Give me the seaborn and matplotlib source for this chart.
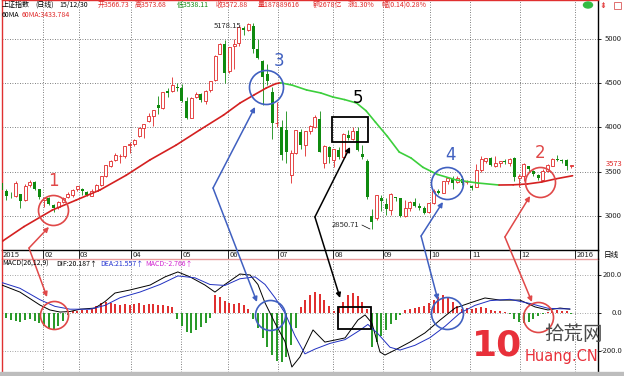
import matplotlib
matplotlib.use("Agg")
import matplotlib.pyplot as plt
import matplotlib.transforms as mtransforms
from matplotlib.patches import Rectangle, Ellipse
from matplotlib.lines import Line2D
import numpy as np
import pandas as pd
import seaborn as sns

W, H = 624, 376
RED = "#e02828"
RED_A = "#e04848"
GREEN = "#0f8a0f"
MA_GREEN = "#3ccf3c"
BLUE = "#4060c0"
PINK = "#e89a9a"

# ----------------------------------------
# data
# ----------------------------------------
month_days = [20, 35, 57, 78, 98, 119, 142, 163, 183, 200, 221, 244]
month_labels = ["02", "03", "04", "05", "06", "07", "08", "09", "10", "11", "12", "2016"]

# one candle per two trading days, Jan .. Dec 2015
candle_open = [
    3258, 3371, 3285, 3223, 3230, 3250, 3180, 3350, 3380, 3300,
    3180, 3200, 3120, 3100, 3160, 3210, 3240, 3300, 3310, 3270,
    3230, 3285, 3350, 3450, 3570, 3630, 3680, 3680, 3800, 3815,
    3900, 3990, 4070, 4130, 4250, 4220, 4410, 4410, 4460, 4441,
    4300, 4110, 4340, 4380, 4300, 4420, 4540, 4830, 4940, 4633,
    4920, 4950, 5120, 5100, 5150, 4890, 4750, 4600, 4400, 4050,
    4000, 3975, 3467, 3710, 3950, 3800, 3960, 4000, 4100, 3600,
    3780, 3630, 3750, 3670, 3920, 3870, 3960, 3700, 3620, 3000,
    2980, 3200, 3140, 3070, 3210, 3200, 3000, 3090, 3160, 3110,
    3090, 3040, 3150, 3280, 3260, 3400, 3420, 3380, 3420, 3380,
    3340, 3330, 3520, 3620, 3650, 3560, 3600, 3620, 3600, 3650,
    3430, 3450, 3560, 3510, 3460, 3410, 3510, 3570, 3640, 3630,
    3630, 3567,
]
candle_close = [
    3351, 3293, 3229, 3222, 3376, 3173, 3343, 3383, 3305, 3210,
    3204, 3136, 3095, 3157, 3203, 3246, 3298, 3336, 3280, 3241,
    3286, 3349, 3449, 3577, 3617, 3691, 3682, 3786, 3810, 3863,
    3995, 4034, 4135, 4194, 4217, 4398, 4394, 4476, 4441, 4298,
    4112, 4333, 4375, 4308, 4418, 4529, 4813, 4941, 4611, 4910,
    4947, 5131, 5106, 5166, 4887, 4786, 4576, 4527, 4053, 4053,
    3687, 3728, 3709, 3970, 3805, 3957, 4017, 4124, 3725, 3789,
    3664, 3756, 3661, 3928, 3886, 3965, 3748, 3664, 3210, 2927,
    3232, 3166, 3080, 3243, 3200, 3005, 3086, 3156, 3115, 3092,
    3038, 3143, 3288, 3263, 3391, 3425, 3368, 3430, 3375, 3382,
    3316, 3522, 3646, 3650, 3580, 3604, 3617, 3610, 3647, 3436,
    3456, 3585, 3536, 3472, 3434, 3510, 3580, 3642, 3636, 3627,
    3563, 3573,
]
candle_high = [
    3394, 3404, 3300, 3275, 3400, 3250, 3360, 3406, 3390, 3310,
    3210, 3210, 3130, 3165, 3210, 3275, 3300, 3340, 3320, 3280,
    3310, 3360, 3450, 3580, 3632, 3716, 3700, 3795, 3835, 3866,
    4000, 4040, 4169, 4200, 4356, 4400, 4445, 4572, 4500, 4489,
    4345, 4340, 4404, 4390, 4420, 4530, 4814, 4958, 4986, 4911,
    5000, 5147, 5147, 5178, 5176, 4995, 4760, 4720, 4460, 4287,
    4080, 4190, 3748, 3975, 3980, 3960, 4030, 4140, 4184, 3800,
    3790, 3760, 3780, 3940, 3970, 4000, 4006, 3800, 3640, 3080,
    3240, 3240, 3200, 3256, 3220, 3200, 3182, 3165, 3200, 3150,
    3110, 3150, 3300, 3300, 3400, 3430, 3448, 3457, 3450, 3410,
    3350, 3585, 3678, 3660, 3670, 3680, 3620, 3640, 3650, 3668,
    3470, 3600, 3570, 3520, 3480, 3530, 3590, 3651, 3684, 3640,
    3640, 3574,
]
candle_low = [
    3253, 3285, 3180, 3205, 3220, 3095, 3170, 3330, 3290, 3190,
    3100, 3120, 3050, 3080, 3150, 3200, 3210, 3280, 3240, 3230,
    3225, 3280, 3340, 3445, 3555, 3625, 3600, 3660, 3710, 3790,
    3890, 3880, 4060, 4020, 4156, 4205, 4350, 4400, 4410, 4293,
    4099, 4105, 4330, 4292, 4260, 4400, 4530, 4830, 4500, 4615,
    4660, 4920, 5040, 5090, 4842, 4770, 4250, 4480, 3875, 4000,
    3629, 3600, 3373, 3700, 3760, 3680, 3930, 3990, 3720, 3537,
    3600, 3550, 3640, 3660, 3860, 3860, 3740, 3640, 3191, 2851,
    2950, 3054, 3010, 3011, 3165, 2983, 2990, 3060, 3100, 3065,
    3020, 3030, 3140, 3250, 3255, 3360, 3300, 3370, 3350, 3360,
    3290, 3325, 3500, 3600, 3560, 3550, 3550, 3590, 3570, 3400,
    3330, 3400, 3500, 3450, 3405, 3400, 3500, 3560, 3620, 3600,
    3520, 3538,
]

ma60_day = [0, 3, 12, 24, 34, 44, 55, 65, 76, 86, 96, 103, 109, 114, 118, 120, 125,
            131, 137, 142, 147, 152, 156, 160, 165, 170, 175, 180, 186, 194, 203,
            212, 218, 224, 230, 236, 243]
ma60_val = [2690, 2717, 2880, 3068, 3180, 3294, 3460, 3633, 3800, 3972, 4140, 4277,
            4370, 4446, 4495, 4505, 4478, 4424, 4390, 4345, 4315, 4277, 4190, 4060,
            3900, 3723, 3655, 3550, 3470, 3407, 3373, 3350, 3352, 3362, 3384, 3420, 3455]

dif_day = [2.7, 10.3, 18.7, 22.9, 27.2, 31.4, 35.6, 41.9, 46.1, 50.3,
           56.6, 65.1, 71.4, 76.8, 81.9, 88.2, 92.4, 96.6, 102.9, 107.2,
           110.5, 113.5, 117.7, 121.9, 124.8, 128.2, 133.7, 138.7, 143.0, 147.2,
           152.6, 155.6, 158.5, 161.9, 164.0, 168.2, 174.5, 180.8, 187.2, 193.5,
           199.8, 206.1, 212.4, 220.8, 227.2, 232.6, 237.7, 241.9]
dif_val = [147, 110, 42, 16, 5, 8, 20, 26, 60, 105,
           121, 147, 190, 216, 190, 147, 110, 150, 205, 200,
           150, 53, -53, -150, -284, -231, -89, -153, -142, -131,
           -37, -10, -53, -205, -221, -195, -153, -105, -37, 26,
           53, 79, 68, 68, 32, 16, 26, 20]
dea_day = [2.7, 10.3, 18.7, 25.0, 31.4, 39.8, 46.1, 52.4, 60.8, 69.3,
           76.8, 84.0, 90.3, 96.6, 102.9, 109.3, 113.5, 117.7, 121.9, 126.1,
           130.3, 134.5, 140.8, 147.2, 153.5, 156.8, 161.1, 166.1, 170.3, 176.6,
           182.9, 189.3, 195.6, 201.9, 208.2, 216.6, 225.1, 232.6, 237.7, 241.9]
dea_val = [160, 130, 70, 35, 20, 20, 40, 80, 110, 150,
           195, 185, 150, 145, 180, 190, 150, 80, 0, -120,
           -215, -190, -160, -140, -90, -60, -110, -180, -195, -170,
           -130, -70, 0, 40, 65, 72, 50, 25, 22, 21.6]
macd_hist = [
    -15, -22, -28, -35, -40, -45, -38, -30, -40, -50,
    -70, -85, -89, -70, -40, -10, 8, 12, 15, 18,
    20, 35, 50, 58, 50, 45, 42, 48, 40, 45,
    50, 42, 48, 45, 40, 44, 38, 30, -30, -70,
    -100, -105, -90, -75, -55, -25, 95, 85, 65, 50,
    45, 55, 40, 20, -30, -80, -130, -180, -220, -250,
    -258, -230, -170, -80, 30, 70, 95, 110, 100, 70,
    35, 10, 25, 60, 95, 105, 90, 60, 20, -179,
    -150, -120, -90, -60, -35, -10, 15, 20, 25, 30,
    35, 50, 70, 85, 95, 85, 60, 35, 20, 25,
    22, 28, 30, 25, 15, 12, 8, 5, -5, -30,
    -45, -53, -45, -30, -15, -5, 5, 10, 15, 12,
    8, -3,
]

price_ticks = [3000, 3500, 4000, 4500, 5000]
macd_ticks = [200, 0, -200]
macd_tick_labels = ["200.0", "0.0", "-200.0"]

# marked spots: circle on price chart, circle on MACD, arrows from one origin
spot_label = ["1", "3", "4", "2"]
spot_color = [RED_A, BLUE, BLUE, RED_A]
spot_main = [(24.2, 3068, 15), (113.9, 4458, 17), (190.1, 3373, 16), (229.3, 3384, 15)]
spot_macd = [(24.6, -10, 14), (115.6, -10, 15), (190.1, 0, 16), (228.4, -21, 15)]
number_pos = [(24.2, 3395), (119.4, 4751), (191.4, 3689), (229.3, 3712)]
arrow_from = [(14.1, 2638), (91.6, 3316), (179.2, 2774), (214.5, 2763)]
arrow_to_main = [(22.5, 2876), (109.3, 4232), (188.4, 3158), (225.1, 3226)]
arrow_to_macd = [(21.7, 84), (110.1, 58), (186.3, 68), (225.9, 58)]

# spot 5 uses boxes
box_main = (141.6, 3836, 15.2, 283)
box_macd = (144.2, -84, 13.9, 116)
box5_from = (134.5, 2989)
box5_to_main = (149.3, 3780)
box5_to_macd = (145.1, 79)
box5_number = (152.6, 4333)

# ----------------------------------------
# figure
# ----------------------------------------
sns.set_theme(style="white")
plt.rcParams["font.family"] = ["Noto Sans CJK SC", "DejaVu Sans"]
plt.rcParams["axes.unicode_minus"] = False

fig = plt.figure(figsize=(W / 100, H / 100), dpi=100)
fig.patch.set_facecolor("white")


def fx(x):
    return x / W


def fy(y):
    return 1 - y / H


def ftext(x, y, s, **kw):
    kw.setdefault("va", "center")
    kw.setdefault("fontsize", 5)
    fig.text(fx(x), fy(y), s, **kw)


ax = fig.add_axes([fx(2), fy(250), 596 / W, 250 / H])
axm = fig.add_axes([fx(2), fy(372), 596 / W, 113 / H])
XMIN, XMAX = 2.74, 253.7
ax.set_xlim(XMIN, XMAX)
ax.set_ylim(2615.7, 5440.7)
axm.set_xlim(XMIN, XMAX)
axm.set_ylim(-310.3, 284)

# grid
grid_kw = dict(color="#555555", lw=0.6, ls=(0, (1, 2)), zorder=1)
for d in month_days:
    ax.axvline(d, **grid_kw)
    axm.axvline(d, **grid_kw)
for p in price_ticks:
    ax.axhline(p, **grid_kw)
for v in macd_ticks:
    axm.axhline(v, **dict(grid_kw, color="#888888"))

# candles
df = pd.DataFrame({"open": candle_open, "close": candle_close,
                   "high": candle_high, "low": candle_low})
df["pos"] = np.arange(len(df)) * 2 + 0.5
up = df[df["close"] >= df["open"]]
dn = df[df["close"] < df["open"]]
ax.vlines(up["pos"], up["low"], up["high"], color=RED, lw=0.6, zorder=3)
ax.vlines(dn["pos"], dn["low"], dn["high"], color=GREEN, lw=0.6, zorder=3)
ax.bar(up["pos"], up["close"] - up["open"], bottom=up["open"], width=1.3,
       facecolor="white", edgecolor=RED, lw=0.6, zorder=4)
ax.bar(dn["pos"], dn["open"] - dn["close"], bottom=dn["close"], width=1.3,
       color=GREEN, lw=0, zorder=4)

# 60 day MA, red when rising, green when falling
for i in range(len(ma60_day) - 1):
    c = "#d42020" if ma60_val[i + 1] >= ma60_val[i] else MA_GREEN
    ax.plot(ma60_day[i:i + 2], ma60_val[i:i + 2], color=c, lw=1.2,
            zorder=5, solid_capstyle="round")

# MACD
hist_pos = np.arange(len(macd_hist)) * 2 + 0.5
hist_col = ["#e03030" if v >= 0 else "#2a9a2a" for v in macd_hist]
axm.bar(hist_pos, macd_hist, width=0.9, color=hist_col, lw=0, zorder=3)
sns.lineplot(x=dif_day, y=dif_val, ax=axm, color="black", linewidth=0.7,
             sort=False, estimator=None, zorder=4)
sns.lineplot(x=dea_day, y=dea_val, ax=axm, color="#2030c0", linewidth=0.7,
             sort=False, estimator=None, zorder=4)
axm.set_xlabel("")
axm.set_ylabel("")

# axes frames and ticks
for a in (ax, axm):
    a.set_xticks([])
    a.set_yticks([])
    a.spines["left"].set_color("#e03030")
    a.spines["right"].set_color("black")
    for s in a.spines.values():
        s.set_linewidth(1.0)
ax.spines["top"].set_color("#e03030")
ax.spines["bottom"].set_color("black")
axm.spines["top"].set_color(PINK)
axm.spines["bottom"].set_visible(False)

ax.set_xticks(month_days)
ax.set_xticklabels([])
ax.tick_params(axis="x", bottom=True, direction="out", length=6.5, width=0.6,
               color="black")
ax.yaxis.tick_right()
ax.set_yticks(price_ticks)
ax.set_yticklabels([])
ax.tick_params(axis="y", right=True, left=False, direction="out", length=2.5,
               width=0.6, color="black")
axm.yaxis.tick_right()
axm.set_yticks(macd_ticks)
axm.set_yticklabels([])
axm.tick_params(axis="y", right=True, left=False, direction="out", length=2.5,
                width=0.6, color="black")

xb = mtransforms.blended_transform_factory(ax.transData, ax.transAxes)
ax.text(XMIN + 0.3, -0.02, "2015", transform=xb, ha="left", va="center", fontsize=5.5)
for d, lab in zip(month_days, month_labels):
    ax.text(d + 0.6, -0.02, lab, transform=xb, ha="left", va="center", fontsize=5.5)

yb = mtransforms.blended_transform_factory(ax.transAxes, ax.transData)
for p in price_ticks:
    ax.text(1 + 24 / 596, p, str(p), transform=yb, ha="right", va="center", fontsize=5.5)
ax.text(1 + 24 / 596, 3590, "3573", transform=yb, ha="right", va="center",
        fontsize=5.5, color=RED)
ymb = mtransforms.blended_transform_factory(axm.transAxes, axm.transData)
for v, lab in zip(macd_ticks, macd_tick_labels):
    axm.text(1 + 24 / 596, v, lab, transform=ymb, ha="right", va="center", fontsize=5.5)

# continuous frame lines through the date row
fig.add_artist(Line2D([fx(2), fx(2)], [fy(250), fy(259)], color="#e03030", lw=1.0))
fig.add_artist(Line2D([fx(598), fx(598)], [fy(250), fy(259)], color="black", lw=1.0))
fig.add_artist(Rectangle((0, 0), 1, 4 / H, transform=fig.transFigure,
                         color="#bdbdbd", zorder=10))

# extreme value labels
ax.text(97.9, 5147, "5178.15", ha="center", va="center", fontsize=5.5, zorder=6)
ax.text(147.6, 2898, "2850.71", ha="center", va="center", fontsize=5.5, zorder=6)
ax.plot([154.3, 157.7], [2898, 2853], color="black", lw=0.5, zorder=6)

# ----------------------------------------
# annotations
# ----------------------------------------
arrow_kw = dict(arrowstyle="-|>", lw=1.1, mutation_scale=7, shrinkA=0, shrinkB=0)


def draw_arrow(start, end, color, target):
    target.annotate("", xy=end, xycoords="data", xytext=start,
                    textcoords=ax.transData,
                    arrowprops=dict(arrow_kw, color=color),
                    annotation_clip=False, zorder=8)


for i in range(len(spot_label)):
    c = spot_color[i]
    d, p, r = spot_main[i]
    ax.plot([d], [p], marker="o", ms=2 * r * 0.72, mfc="none", mec=c, mew=1.2,
            zorder=7, clip_on=False)
    d, v, r = spot_macd[i]
    axm.plot([d], [v], marker="o", ms=2 * r * 0.72, mfc="none", mec=c, mew=1.2,
             zorder=7, clip_on=False)
    ax.text(number_pos[i][0], number_pos[i][1], spot_label[i], color=c,
            fontsize=12, ha="center", va="center", family="DejaVu Sans", zorder=8)
    draw_arrow(arrow_from[i], arrow_to_main[i], c, ax)
    draw_arrow(arrow_from[i], arrow_to_macd[i], c, axm)

ax.add_patch(Rectangle(box_main[:2], box_main[2], box_main[3], fill=False,
                       ec="black", lw=1.3, zorder=7))
axm.add_patch(Rectangle(box_macd[:2], box_macd[2], box_macd[3], fill=False,
                        ec="black", lw=1.3, zorder=7))
ax.text(box5_number[0], box5_number[1], "5", color="black", fontsize=12,
        ha="center", va="center", family="DejaVu Sans", zorder=8)
draw_arrow(box5_from, box5_to_main, "black", ax)
draw_arrow(box5_from, box5_to_macd, "black", axm)

# ----------------------------------------
# header texts
# ----------------------------------------
header = [
    ("上证指数", 2, "black"), ("(日线)", 35, "black"), ("15/12/30", 59, "black"),
    ("开3566.73", 98, RED), ("高3573.68", 135, RED), ("低3538.11", 177, GREEN),
    ("收3572.88", 216, RED), ("量187889616", 258, RED), ("额2678亿", 313, RED),
    ("涨1.30%", 348, RED), ("幅(0.14)0.28%", 382, RED),
]
for s, x, c in header:
    ftext(x, 5, s, color=c)
ftext(2, 15, "60MA", color="black")
ftext(22, 15, "60MA:3433.784", color=RED)

ftext(2, 264, "MACD(26,12,9)", color="black")
ftext(56, 264, "DIF:20.187↑", color="black")
ftext(100, 264, "DEA:21.557↑", color="#2030d0")
ftext(145, 264, "MACD:-2.766↑", color="#d020d0")
ftext(604, 255, "日线", color="black", fontsize=5.5)

fig.add_artist(Ellipse((fx(588), fy(5)), 9 / W, 6 / H, transform=fig.transFigure,
                       color="#33bb44"))
ftext(603, 5, "⇟", color=RED, fontsize=6, ha="center", family="DejaVu Sans")
fig.add_artist(Rectangle((fx(614), fy(9)), 7 / W, 7 / H, transform=fig.transFigure,
                         fill=False, ec="#e07070", lw=0.7))

# watermark
ftext(497, 346, "10", color="#e8303a", fontsize=26, fontweight="bold",
      ha="center", family="DejaVu Sans", zorder=20)
ftext(573, 334, "拾荒网", color="#4a4a4a", fontsize=14, ha="center", zorder=20)
ftext(561, 356, "Huang.CN", color="#e8303a", fontsize=10.5, ha="center",
      family="DejaVu Sans", zorder=20)

plt.savefig("out.png", dpi=100)
